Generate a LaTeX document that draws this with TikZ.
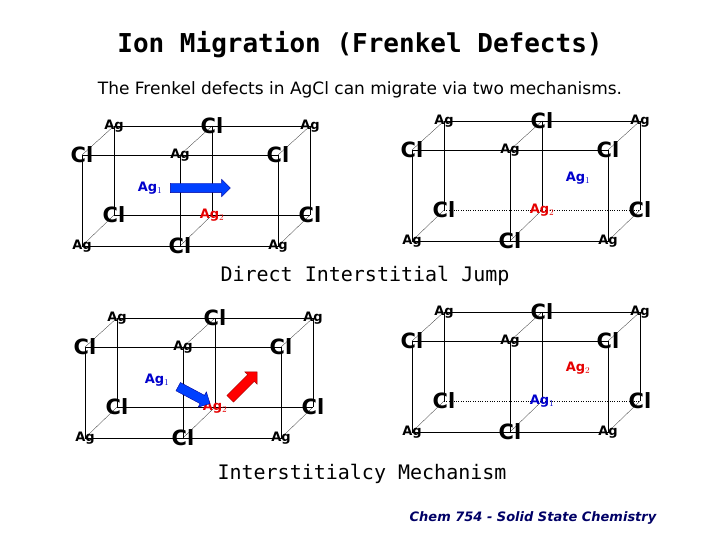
\documentclass[tikz,border=0pt]{standalone}
\usepackage{fontspec}
\setmainfont{DejaVu Sans}
\newfontfamily\titlefont{DejaVu Sans Mono}
\usetikzlibrary{shapes.arrows}
\tikzset{
  atom/.style={font=\fontsize{13}{13}\selectfont\bfseries, inner sep=0pt},
  bigatom/.style={font=\fontsize{21}{21}\selectfont\bfseries, inner sep=0pt},
  edge/.style={thin},
  blueion/.style={atom, text=blue!80!black},
  redion/.style={atom, text=red!90!black},
  jump/.style={single arrow, single arrow head extend=4pt, minimum height=60pt, text height=9pt, text depth=0pt, inner sep=0pt, draw=blue!60!black, fill=blue!75!cyan},
  headline/.style={font=\titlefont\bfseries\fontsize{26}{26}\selectfont},
  section/.style={font=\titlefont\fontsize{20}{20}\selectfont},
}
\newcommand\agtwo{\textcolor{red!90!black}{\fontsize{13}{13}\selectfont\bfseries Ag$_2$}}
\newcommand\agone{\textcolor{blue!80!black}{\fontsize{13}{13}\selectfont\bfseries Ag$_1$}}
% one AgCl block: prefix, x, y of front top-left, label of back bottom middle, style of back bottom edge
\newcommand\crystal[5]{
  \coordinate (#1f1) at (#2,#3);
  \coordinate (#1f2) at (#2+98,#3);
  \coordinate (#1f3) at (#2+196,#3);
  \coordinate (#1f4) at (#2,#3+91);
  \coordinate (#1f5) at (#2+98,#3+91);
  \coordinate (#1f6) at (#2+196,#3+91);
  \coordinate (#1b1) at (#2+32,#3-29);
  \coordinate (#1b2) at (#2+130,#3-29);
  \coordinate (#1b3) at (#2+228,#3-29);
  \coordinate (#1b4) at (#2+32,#3+60);
  \coordinate (#1b5) at (#2+130,#3+60);
  \coordinate (#1b6) at (#2+228,#3+60);
  \draw[edge] (#1f1) -- (#1f3) -- (#1f6) -- (#1f4) -- cycle (#1f2) -- (#1f5);
  \draw[edge] (#1b1) -- (#1b3) -- (#1b6) (#1b4) -- (#1b1) (#1b2) -- (#1b5);
  \draw[edge,#5] (#1b4) -- (#1b6);
  \foreach \i in {1,...,6} {\draw[very thin] (#1f\i) -- (#1b\i);}
  \node[bigatom] at (#1f1) {Cl};
  \node[atom] at (#1f2) {Ag};
  \node[bigatom] at (#1f3) {Cl};
  \node[atom] at (#1f4) {Ag};
  \node[bigatom] at (#1f5) {Cl};
  \node[atom] at (#1f6) {Ag};
  \node[atom] at (#1b1) {Ag};
  \node[bigatom] at (#1b2) {Cl};
  \node[atom] at (#1b3) {Ag};
  \node[bigatom] at (#1b4) {Cl};
  \node[inner sep=0pt] at (#1b5) {#4};
  \node[bigatom] at (#1b6) {Cl};
}
\begin{document}
\begin{tikzpicture}[x=1pt,y=-1pt]
  \useasboundingbox (0,0) rectangle (720,540);
  \node[headline] (title) at (360,45) {Ion Migration (Frenkel Defects)};
  \node[font=\fontsize{17}{17}\selectfont] (sub) at (360,90) {The Frenkel defects in AgCl can migrate via two mechanisms.};
  % direct interstitial jump
  \crystal{a}{82}{155}{\agtwo}{solid}
  \node[blueion] (aion1) at (150,188) {Ag$_1$};
  \node[jump] (aarrow) at (198,188) {};
  \crystal{b}{412}{150}{\agtwo}{dotted}
  \node[blueion] (bion1) at (578,178) {Ag$_1$};
  \node[section] (jumptitle) at (365,276) {Direct Interstitial Jump};
  % interstitialcy mechanism
  \crystal{c}{85}{347}{\agtwo}{solid}
  \node[blueion] (cion1) at (157,380) {Ag$_1$};
  \node[jump, minimum height=36pt, rotate=-28] (carrow1) at (192,394) {};
  \node[jump, minimum height=38pt, draw=red!60!black, fill=red, rotate=45] (carrow2) at (242,387) {};
  \crystal{d}{412}{341}{\agone}{dotted}
  \node[redion] (dion2) at (578,368) {Ag$_2$};
  \node[section] (mechtitle) at (362,474) {Interstitialcy Mechanism};
  \node[font=\fontsize{13}{13}\selectfont\bfseries\itshape, text=blue!40!black] (course) at (533,518) {Chem 754 - Solid State Chemistry};
\end{tikzpicture}
\end{document}
